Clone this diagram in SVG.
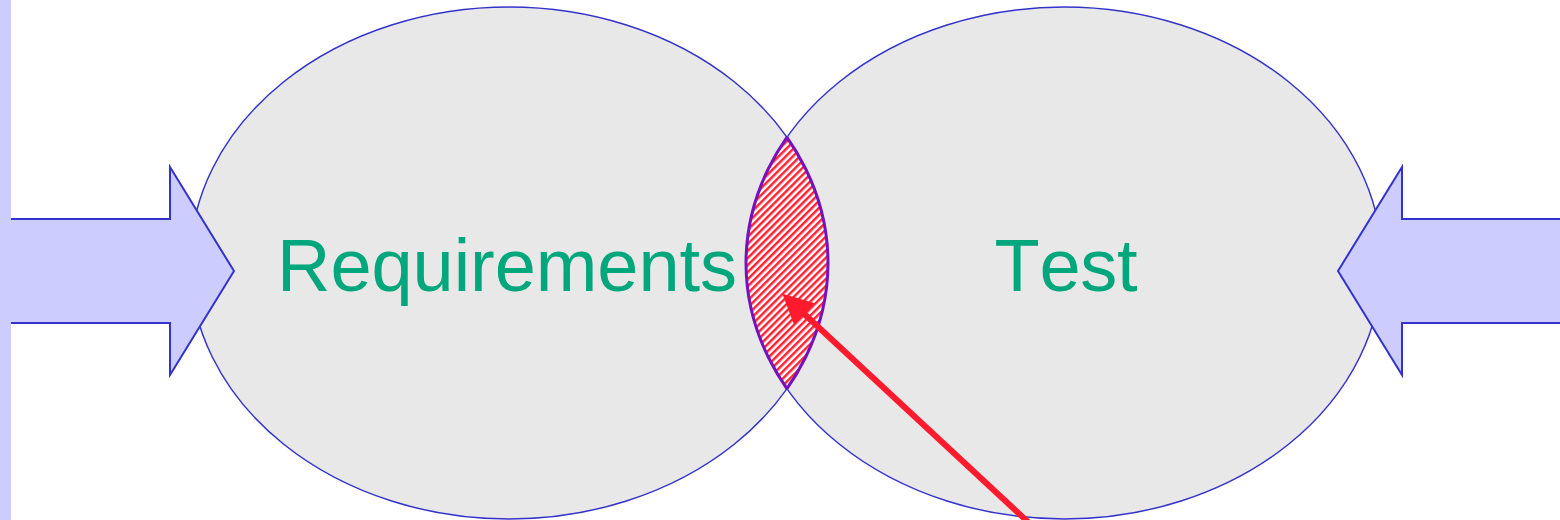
<svg xmlns="http://www.w3.org/2000/svg" width="1560" height="520" viewBox="0 0 1560 520">
<style>
.ell{fill:#e8e8e8;stroke:#3333cc;stroke-width:1.5}
.bigarrow{fill:#ccccff;stroke:#3333cc;stroke-width:2;stroke-linejoin:miter}
.lbl{font-family:"Liberation Sans",Arial,sans-serif;font-size:74px;fill:#00a67c;text-anchor:middle;font-kerning:none}
</style>
<defs>
<pattern id="hatch" width="5" height="5" patternUnits="userSpaceOnUse" patternTransform="rotate(45)">
<rect width="5" height="5" fill="#ffffff"/>
<rect width="2.5" height="5" fill="#ff2233"/>
</pattern>
<marker id="redhead" viewBox="0 0 10 10" refX="2" refY="5" markerWidth="5" markerHeight="5" orient="auto" markerUnits="strokeWidth">
<path d="M0,0 L10,5 L0,10 z" fill="#ff1a2e"/>
</marker>
</defs>
<rect x="0" y="0" width="11" height="520" fill="#ccccff"/>
<g id="node-requirements">
<ellipse class="ell" cx="509" cy="263" rx="319" ry="256"/>
<text class="lbl" x="507" y="291" textLength="460" lengthAdjust="spacing">Requirements</text>
</g>
<g id="node-test">
<ellipse class="ell" cx="1064" cy="263" rx="318" ry="256"/>
<text class="lbl" x="1066" y="291" textLength="143" lengthAdjust="spacing">Test</text>
</g>
<g id="node-overlap">
<clipPath id="clipL"><ellipse cx="509" cy="263" rx="319" ry="256"/></clipPath>
<ellipse cx="1064" cy="263" rx="318" ry="256" fill="url(#hatch)" stroke="#7711bb" stroke-width="3" clip-path="url(#clipL)"/>
<clipPath id="clipR"><ellipse cx="1064" cy="263" rx="318" ry="256"/></clipPath>
<ellipse cx="509" cy="263" rx="319" ry="256" fill="none" stroke="#7711bb" stroke-width="3" clip-path="url(#clipR)"/>
</g>
<g id="node-left-arrow">
<path class="bigarrow" d="M11,219 L170,219 L170,167 L234,271 L170,375 L170,323 L11,323"/>
</g>
<g id="node-right-arrow">
<path class="bigarrow" d="M1560,219 L1402,219 L1402,167 L1338,271 L1402,375 L1402,323 L1560,323"/>
</g>
<g id="connectors">
<line x1="1028" y1="522" x2="800" y2="310" stroke="#ff1a2e" stroke-width="6" marker-end="url(#redhead)"/>
</g>
</svg>
